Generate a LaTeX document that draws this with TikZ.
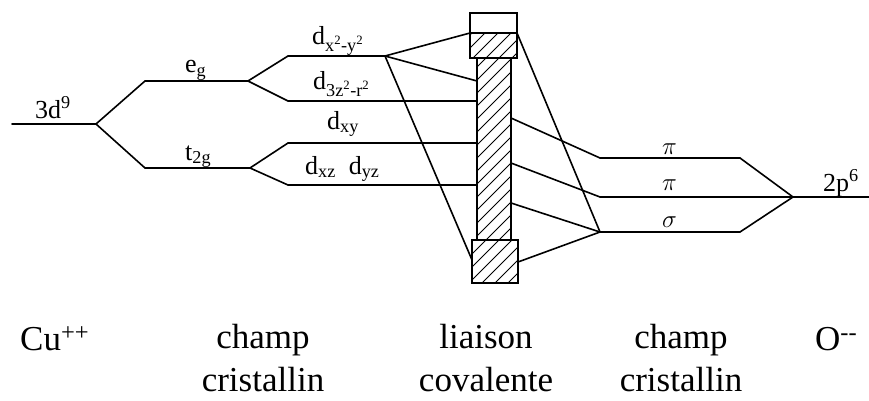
\documentclass[tikz,border=0pt]{standalone}
\usepackage{fontspec}
\setmainfont{Liberation Serif}
\begin{document}
\begin{tikzpicture}[x=1pt,y=-1pt,
  lev/.style={line width=1.9pt, line cap=round},
  con/.style={line width=1.6pt, line cap=round},
  boxline/.style={line width=1.5pt},
  hat/.style={line width=0.8pt},
  lab/.style={font=\fontsize{26}{30}\selectfont, inner sep=0pt, anchor=base west},
  big/.style={font=\fontsize{35}{42}\selectfont, inner sep=0pt, anchor=base}]
\useasboundingbox (0,0) rectangle (869,401);
\fill[white] (0,0) rectangle (869,401);
% level end points
\coordinate (a0) at (12,124);
\coordinate (a1) at (96,124);
\coordinate (e0) at (145,81);
\coordinate (e1) at (248,81);
\coordinate (t0) at (145,168);
\coordinate (t1) at (250,168);
\coordinate (x0) at (288,56);
\coordinate (x1) at (385,56);
\coordinate (z0) at (288,101);
\coordinate (z1) at (477,101);
\coordinate (y0) at (288,143);
\coordinate (y1) at (477,143);
\coordinate (w0) at (288,185);
\coordinate (w1) at (477,185);
% column attachment points
\coordinate (ctl) at (470,33);
\coordinate (cl1) at (477,81);
\coordinate (bbl) at (472,260);
\coordinate (tbr) at (517,33);
\coordinate (cr1) at (511,118);
\coordinate (cr2) at (511,163);
\coordinate (cr3) at (511,203);
\coordinate (bbr) at (518,262);
% right levels
\coordinate (p10) at (600,158);
\coordinate (p11) at (740,158);
\coordinate (p20) at (600,197);
\coordinate (pj) at (793,197);
\coordinate (p2e) at (869,197);
\coordinate (s0) at (600,232);
\coordinate (s1) at (740,232);
% hatching
\begin{scope}
\clip (470,33) rectangle (517,58) (477,58) rectangle (511,240) (472,240) rectangle (518,283);
\foreach \c in {505,518,...,805} \draw[hat] ({\c-320},320) -- (\c,0);
\end{scope}
% column
\draw[boxline] (470,13) rectangle (517,58);
\draw[boxline] (470,33) -- (517,33);
\draw[boxline] (477,58) rectangle (511,240);
\draw[boxline] (472,240) rectangle (518,283);
% levels and connectors
\draw[lev] (a0) -- (a1);
\draw[con] (a1) -- (e0);
\draw[con] (a1) -- (t0);
\draw[lev] (e0) -- (e1);
\draw[lev] (t0) -- (t1);
\draw[con] (e1) -- (x0);
\draw[con] (e1) -- (z0);
\draw[con] (t1) -- (y0);
\draw[con] (t1) -- (w0);
\draw[lev] (x0) -- (x1);
\draw[lev] (z0) -- (z1);
\draw[lev] (y0) -- (y1);
\draw[lev] (w0) -- (w1);
\draw[con] (x1) -- (ctl);
\draw[con] (x1) -- (cl1);
\draw[con] (x1) -- (bbl);
\draw[con] (tbr) -- (s0);
\draw[con] (cr1) -- (p10);
\draw[con] (cr2) -- (p20);
\draw[con] (cr3) -- (s0);
\draw[con] (bbr) -- (s0);
\draw[lev] (p10) -- (p11);
\draw[lev] (p20) -- (p2e);
\draw[lev] (s0) -- (s1);
\draw[con] (p11) -- (pj);
\draw[con] (s1) -- (pj);
% labels
\node[lab] (l3d) at (35,118) {3d\textsuperscript{9}};
\node[lab] (leg) at (185,73) {e\textsubscript{g}};
\node[lab] (lt) at (185,160) {t\textsubscript{2g}};
\node[lab] (ldx) at (312,45) {d\textsubscript{x\textsuperscript{2}-y\textsuperscript{2}}};
\node[lab] (ldz) at (313,90) {d\textsubscript{3z\textsuperscript{2}-r\textsuperscript{2}}};
\node[lab] (ldxy) at (327,129) {d\textsubscript{xy}};
\node[lab] (ldxz) at (305,174) {d\textsubscript{xz}\ \ d\textsubscript{yz}};
\node[lab] (lpi1) at (662,154) {$\pi$};
\node[lab] (lpi2) at (662,190) {$\pi$};
\node[lab] (lsig) at (662,227) {$\sigma$};
\node[lab] (l2p) at (823,191) {2p\textsuperscript{6}};
% bottom labels
\node[big, anchor=base west] (cu) at (20,350) {Cu\textsuperscript{++}};
\node[big] (ch1) at (263,348) {champ};
\node[big] (cr1t) at (263,391) {cristallin};
\node[big] (li) at (486,348) {liaison};
\node[big] (co) at (486,391) {covalente};
\node[big] (ch2) at (681,348) {champ};
\node[big] (cr2t) at (681,391) {cristallin};
\node[big, anchor=base west] (ox) at (815,350) {O\textsuperscript{-{}-}};
\end{tikzpicture}
\end{document}
